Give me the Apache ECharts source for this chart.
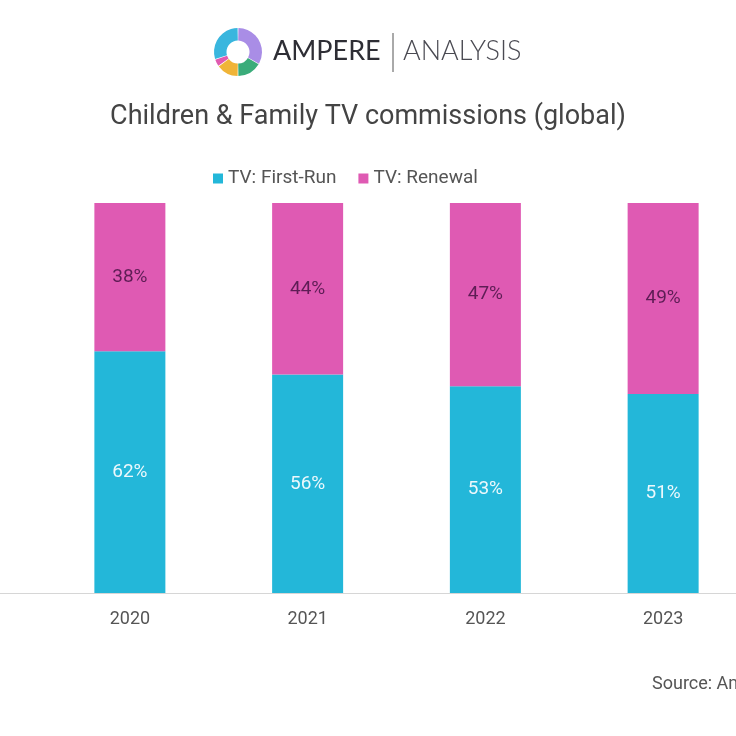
<!DOCTYPE html>
<html>
<head>
<meta charset="utf-8">
<script src="https://cdn.jsdelivr.net/npm/echarts@6/dist/echarts.min.js"></script>
<style>
html,body{margin:0;padding:0;background:#fff;}
#chart{width:736px;height:736px;}
</style>
</head>
<body>
<div id="chart"></div>
<script>
var categories = ['2020', '2021', '2022', '2023'];
var firstRun = [62, 56, 53, 51];
var renewal = [38, 44, 47, 49];
var seriesNames = ['TV: First-Run', 'TV: Renewal'];
var titleText = 'Children & Family TV commissions (global)';
var sourceText = 'Source: Ampere Analysis';

var chart = echarts.init(document.getElementById('chart'), null, {renderer: 'canvas'});

var cx = 238, cy = 52, rO = 24, rI = 11.5;
function deg(d) { return (-90 + d) * Math.PI / 180; }
var logoSegs = [
  {s: 1, e: 119, c: '#a98de6'},
  {s: 121, e: 179, c: '#3aac7a'},
  {s: 181, e: 233, c: '#f0b437'},
  {s: 235, e: 251, c: '#e05ab0'},
  {s: 253, e: 359, c: '#39b6de'}
];
var graphics = logoSegs.map(function (g) {
  return {
    type: 'sector',
    shape: {cx: cx, cy: cy, r: rO, r0: rI, startAngle: deg(g.s), endAngle: deg(g.e)},
    style: {fill: g.c}
  };
});
graphics.push({
  type: 'text', left: 273, top: 38,
  style: {text: 'AMPERE', font: '400 27px Lato, "Open Sans", sans-serif', fill: '#2e2e35'}
});
graphics.push({
  type: 'line', shape: {x1: 393, y1: 33, x2: 393, y2: 72},
  style: {stroke: '#555', lineWidth: 1}
});
graphics.push({
  type: 'text', left: 403, top: 38,
  style: {text: 'ANALYSIS', font: '300 27px Lato, "Open Sans", sans-serif', fill: '#4a4a52'}
});
graphics.push({
  type: 'text', left: 652, top: 675,
  style: {text: sourceText, font: '18px Roboto, sans-serif', fill: '#555'}
});

var option = {
  backgroundColor: '#ffffff',
  animation: false,
  title: {
    text: titleText,
    left: 'center',
    top: 99,
    textStyle: {fontFamily: 'Roboto', fontSize: 27, fontWeight: 'normal', color: '#444'}
  },
  legend: {
    data: seriesNames,
    left: 208,
    top: 164,
    icon: 'rect',
    itemWidth: 10,
    itemHeight: 10,
    itemGap: 22,
    textStyle: {fontFamily: 'Roboto', fontSize: 19, color: '#555'}
  },
  graphic: graphics,
  grid: [
    {left: 41, width: 711, top: 203, bottom: 143, outerBoundsMode: 'none', containLabel: false},
    {left: 0, right: 0, top: 203, bottom: 143, outerBoundsMode: 'none', containLabel: false}
  ],
  xAxis: [
    {
      type: 'category', gridIndex: 0, data: categories,
      axisLine: {show: false},
      axisTick: {show: false},
      axisLabel: {margin: 17, fontFamily: 'Roboto', fontSize: 18, color: '#555'}
    },
    {
      type: 'value', gridIndex: 1, min: 0, max: 1,
      axisLine: {show: true, lineStyle: {color: '#d6d6d6', width: 1}},
      axisTick: {show: false}, axisLabel: {show: false}, splitLine: {show: false}
    }
  ],
  yAxis: [
    {type: 'value', gridIndex: 0, min: 0, max: 100, show: false},
    {type: 'value', gridIndex: 1, min: 0, max: 100, show: false}
  ],
  series: [
    {
      name: seriesNames[0], type: 'bar', stack: 'total', barWidth: 71,
      xAxisIndex: 0, yAxisIndex: 0,
      data: firstRun,
      itemStyle: {color: '#23b7d9'},
      label: {show: true, position: 'inside', formatter: '{c}%', fontFamily: 'Roboto', fontSize: 19, color: '#ecf8fc'}
    },
    {
      name: seriesNames[1], type: 'bar', stack: 'total', barWidth: 71,
      xAxisIndex: 0, yAxisIndex: 0,
      data: renewal,
      itemStyle: {color: '#df5ab3'},
      label: {show: true, position: 'inside', formatter: '{c}%', fontFamily: 'Roboto', fontSize: 19, color: '#5e1d55'}
    }
  ]
};
chart.setOption(option);
</script>
</body>
</html>
